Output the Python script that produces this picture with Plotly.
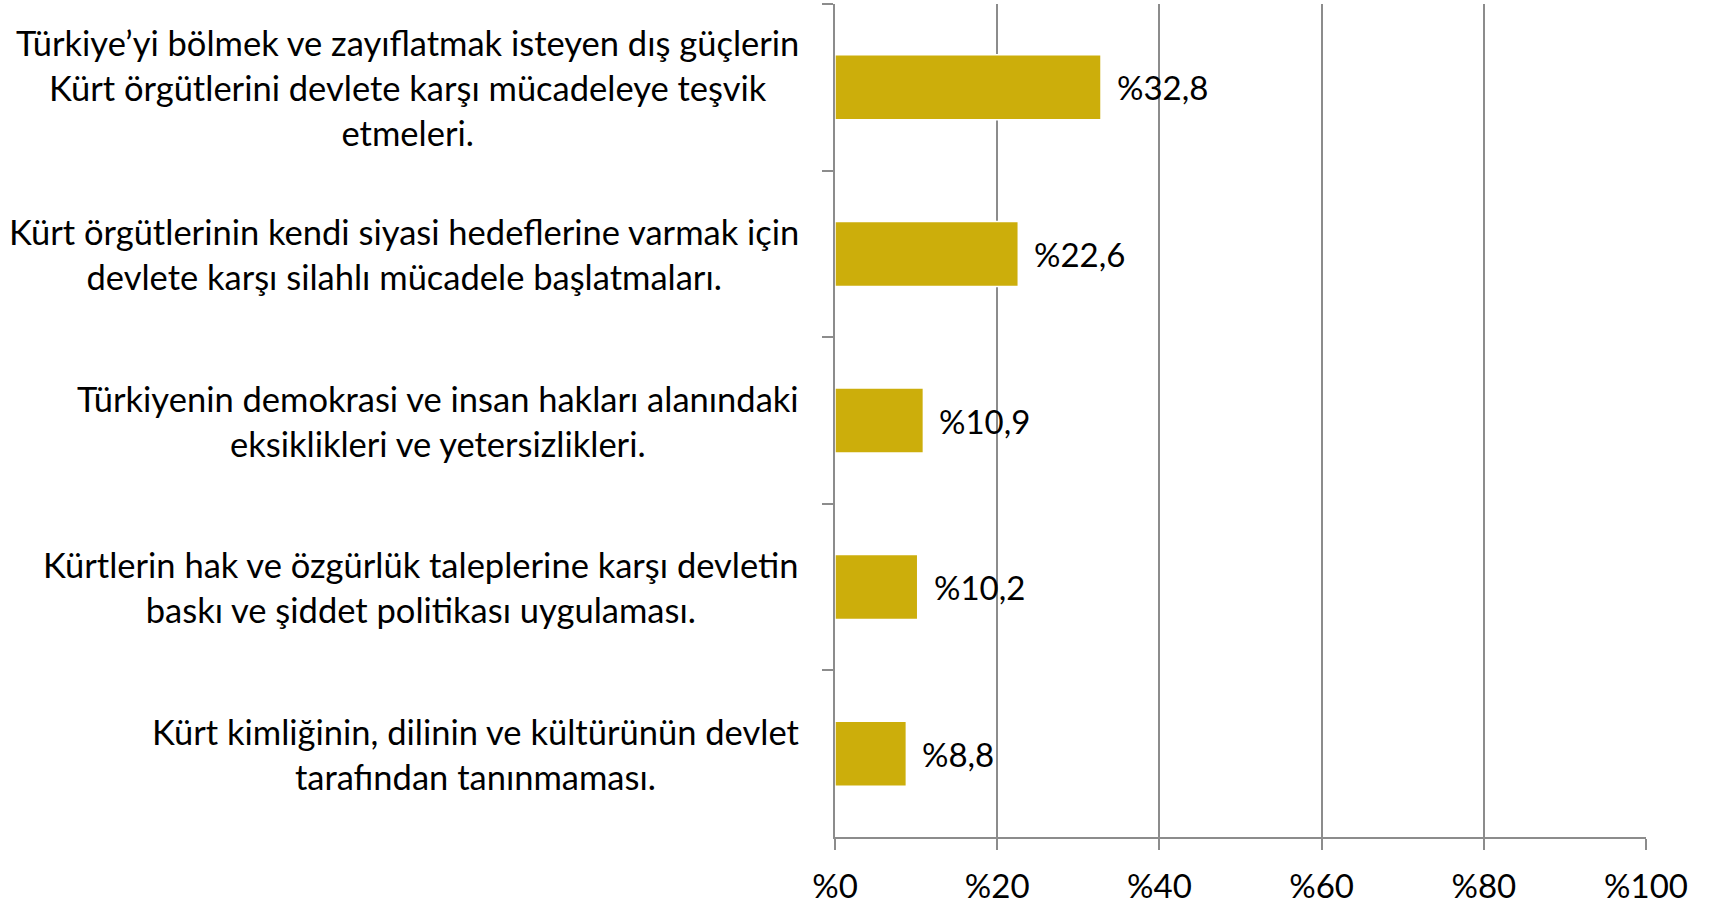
import plotly.graph_objects as go

categories = [
    "Türkiye’yi bölmek ve zayıflatmak isteyen dış güçlerin<br>Kürt örgütlerini devlete karşı mücadeleye teşvik<br>etmeleri.",
    "Kürt örgütlerinin kendi siyasi hedeflerine varmak için<br>devlete karşı silahlı mücadele başlatmaları.",
    "Türkiyenin demokrasi ve insan hakları alanındaki<br>eksiklikleri ve yetersizlikleri.",
    "Kürtlerin hak ve özgürlük taleplerine karşı devletin<br>baskı ve şiddet politikası uygulaması.",
    "Kürt kimliğinin, dilinin ve kültürünün devlet<br>tarafından tanınmaması.",
]
values = [32.8, 22.6, 10.9, 10.2, 8.8]
value_labels = ["%32,8", "%22,6", "%10,9", "%10,2", "%8,8"]
tick_values = [0, 20, 40, 60, 80, 100]
tick_labels = ["%0", "%20", "%40", "%60", "%80", "%100"]

FONT = "Lato"
BAR = "#CCAE0B"
GRID = "#8C8C8C"

fig = go.Figure()
fig.add_trace(go.Bar(
    y=categories, x=values, orientation="h",
    marker=dict(color=BAR, line=dict(color="white", width=1.5)),
    width=0.39, hoverinfo="skip",
))

for c, v, t in zip(categories, values, value_labels):
    fig.add_annotation(x=v, y=c, text=t, showarrow=False, xanchor="left",
                       xshift=14, font=dict(family=FONT, size=33, color="black"))
    fig.add_annotation(x=0, y=c, xref="x", text=c, showarrow=False,
                       xanchor="right", align="center", xshift=-34,
                       font=dict(family=FONT, size=34.5, color="black"))

fig.update_layout(
    width=1723, height=904,
    margin=dict(l=835, r=77, t=4, b=67, autoexpand=False),
    paper_bgcolor="white", plot_bgcolor="white",
    showlegend=False,
    font=dict(family=FONT, size=33, color="black"),
)
fig.update_xaxes(
    range=[0, 100], tickvals=tick_values, ticktext=tick_labels,
    showgrid=True, gridcolor=GRID, gridwidth=1.5,
    showline=True, linecolor=GRID, linewidth=1.5,
    ticks="outside", ticklen=11, tickcolor=GRID, tickwidth=1.5,
    ticklabelstandoff=9, zeroline=False, automargin=False,
    tickfont=dict(family=FONT, size=33, color="black"),
)
fig.update_yaxes(
    autorange="reversed", showticklabels=False, automargin=False,
    showline=True, linecolor=GRID, linewidth=1.5,
    ticks="outside", ticklen=11, tickcolor=GRID, tickwidth=1.5,
    tickson="boundaries", showgrid=False,
)

fig.write_html(
    "out.html",
    config={"displayModeBar": False},
    post_script="document.body.style.margin='0';document.body.style.overflow='hidden';",
)
